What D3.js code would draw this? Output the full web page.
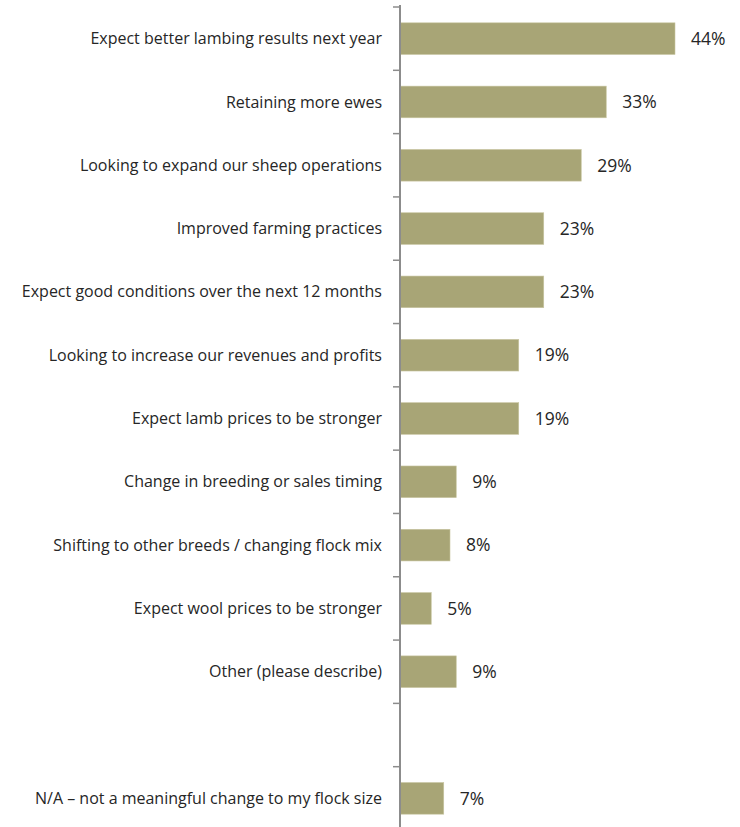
<!DOCTYPE html>
<html>
<head>
<meta charset="utf-8">
<script src="https://cdn.jsdelivr.net/npm/d3@7"></script>
<style>
  html, body { margin: 0; padding: 0; background: #fff; }
  svg { display: block; }
  text { font-family: "Open Sans", Lato, sans-serif; fill: #262626; }
</style>
</head>
<body>
<svg id="chart" width="740" height="827"></svg>
<script>
// Reasons for expected change in flock size (% of respondents)
const categories = [
  "Expect better lambing results next year",
  "Retaining more ewes",
  "Looking to expand our sheep operations",
  "Improved farming practices",
  "Expect good conditions over the next 12 months",
  "Looking to increase our revenues and profits",
  "Expect lamb prices to be stronger",
  "Change in breeding or sales timing",
  "Shifting to other breeds / changing flock mix",
  "Expect wool prices to be stronger",
  "Other (please describe)",
  "",
  "N/A \u2013 not a meaningful change to my flock size"
];
const values = [44, 33, 29, 23, 23, 19, 19, 9, 8, 5, 9, null, 7];

const data = categories.map((c, i) => ({ key: i, label: c, value: values[i] }));

const svg = d3.select("#chart");
const axisX = 400;

const y = d3.scaleBand()
  .domain(data.map(d => d.key))
  .range([7, 830])
  .paddingInner(0.5)
  .paddingOuter(0.25);

const x = d3.scaleLinear()
  .domain([0, 50])
  .range([axisX, axisX + 312.5]);

const step = y.step();
const boundaries = data.map(d => y(d.key) - step * y.paddingInner() / 2);

// Bars
svg.append("g")
  .selectAll("rect")
  .data(data.filter(d => d.value != null))
  .join("rect")
  .attr("x", x(0))
  .attr("y", d => y(d.key))
  .attr("width", d => x(d.value) - x(0))
  .attr("height", y.bandwidth())
  .attr("fill", "#a8a576")
  .attr("stroke", "#c9c6a2")
  .attr("stroke-width", 0.6);

// Value labels
svg.append("g")
  .selectAll("text")
  .data(data.filter(d => d.value != null))
  .join("text")
  .attr("x", d => x(d.value) + 16)
  .attr("y", d => y(d.key) + y.bandwidth() / 2)
  .attr("dy", "0.36em")
  .attr("font-size", 17.5)
  .text(d => d.value + "%");

// Category labels
svg.append("g")
  .selectAll("text")
  .data(data)
  .join("text")
  .attr("x", axisX - 18)
  .attr("y", d => y(d.key) + y.bandwidth() / 2)
  .attr("dy", "0.35em")
  .attr("text-anchor", "end")
  .attr("font-size", 16)
  .text(d => d.label);

// Vertical axis with ticks at category boundaries
const axis = svg.append("g").attr("stroke", "#8c8c8c");
axis.append("line")
  .attr("x1", axisX).attr("x2", axisX)
  .attr("y1", 5).attr("y2", 830)
  .attr("stroke-width", 2);
axis.selectAll("line.tick")
  .data(boundaries)
  .join("line")
  .attr("class", "tick")
  .attr("x1", axisX - 7).attr("x2", axisX)
  .attr("y1", d => d).attr("y2", d => d)
  .attr("stroke-width", 1.5);
</script>
</body>
</html>
